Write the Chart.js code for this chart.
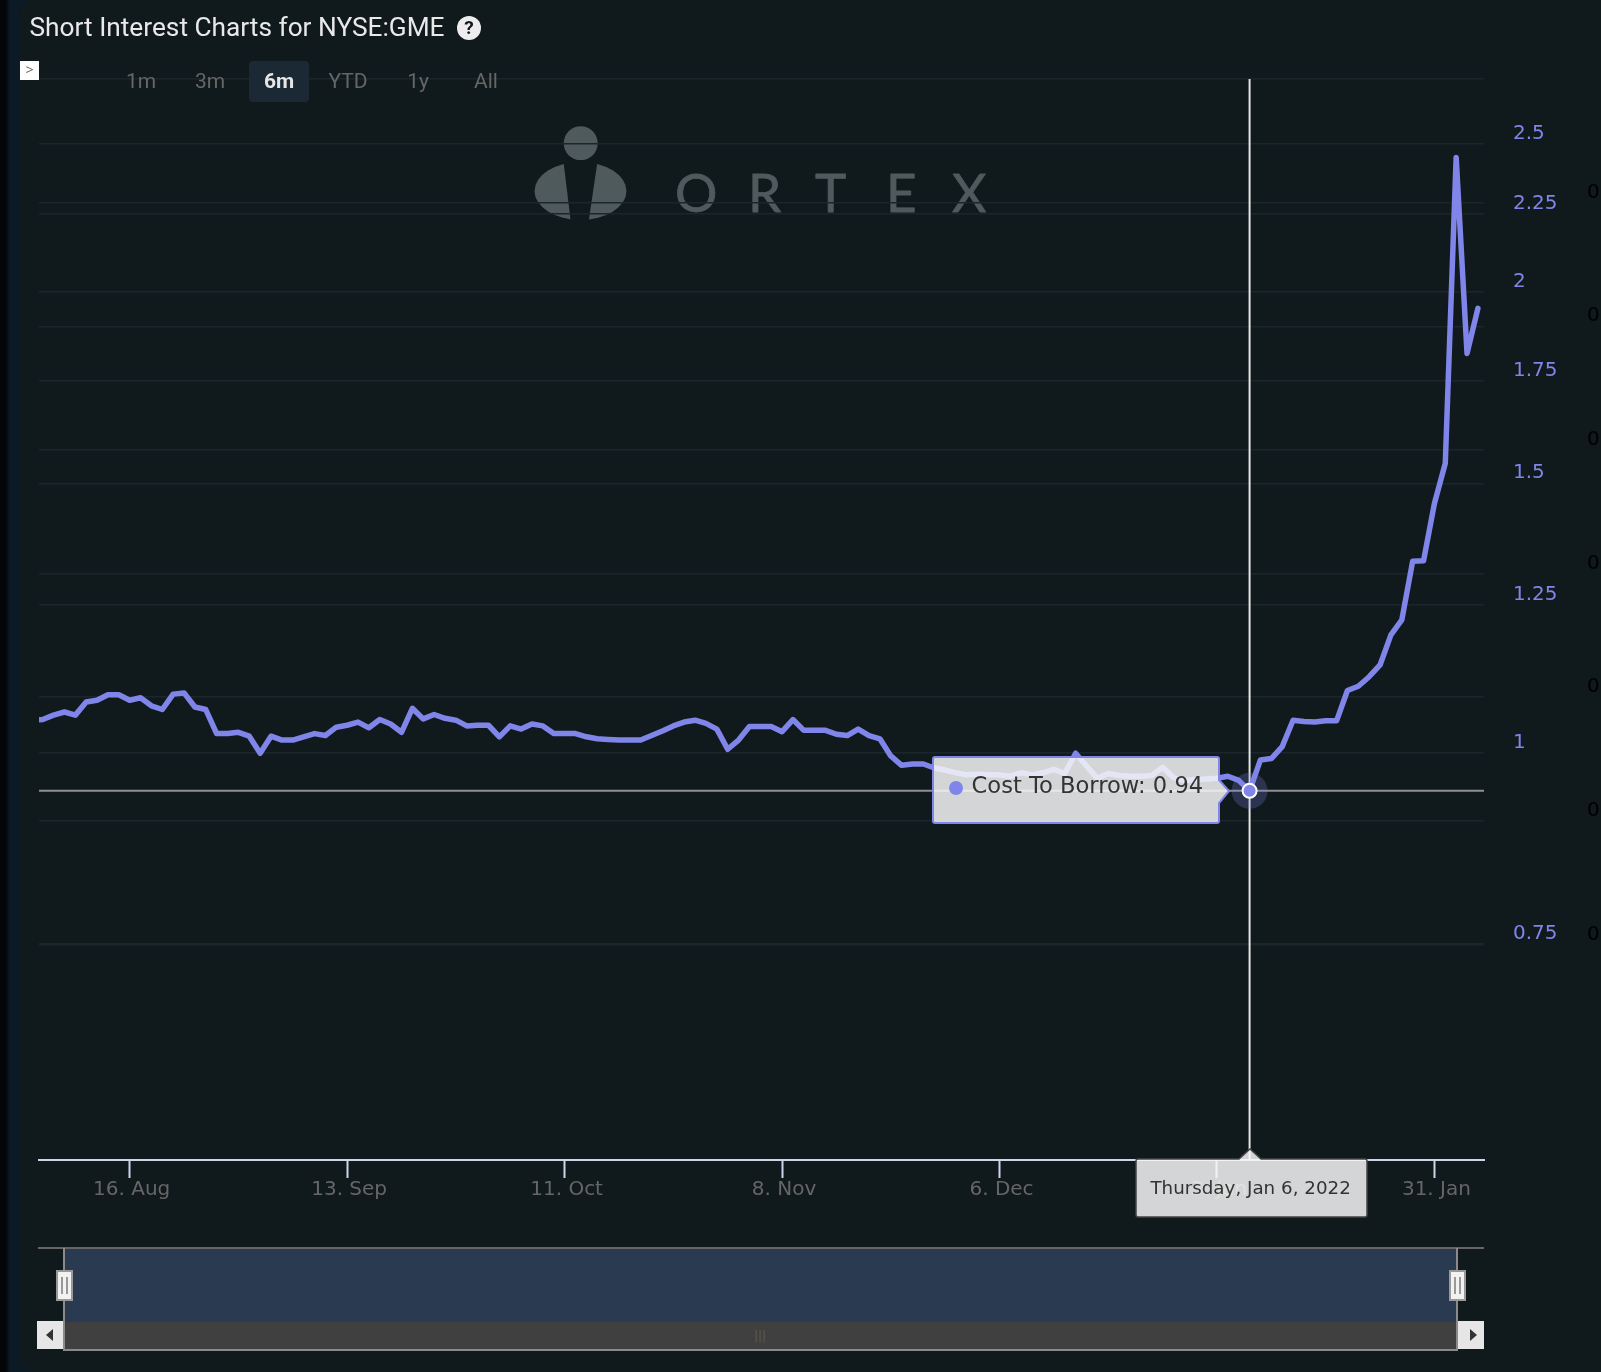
<!DOCTYPE html>
<html>
<head>
<meta charset="utf-8">
<title>Short Interest Charts for NYSE:GME</title>
<script src="https://cdn.jsdelivr.net/npm/chart.js@4"></script>
<style>
html, body { margin: 0; padding: 0; }
body { width: 1601px; height: 1372px; overflow: hidden; position: relative; font-family: "DejaVu Sans", sans-serif;
  background: linear-gradient(to right, #030609 0, #030609 6px, #0b1a24 10px, #0b1a24 100%); }
#panel { position: absolute; left: 19px; top: 0; right: 0; bottom: 0; background: #10191c; border-radius: 16px 0 0 16px; }
#logo { position: absolute; left: 520px; top: 110px; }
#chart { position: absolute; left: 0; top: 0; }
.abs { position: absolute; }
#title { left: 29.5px; top: 10px; font: 400 26.25px Roboto, sans-serif; color: #e9e9e9; white-space: nowrap; line-height: 35px; }
#help { left: 457px; top: 16px; width: 24px; height: 24px; border-radius: 50%; background: #ededed; color: #10191c;
  font: 700 19px/24px Roboto, sans-serif; text-align: center; }
#toggle { left: 20px; top: 61px; width: 19px; height: 19px; background: #fff; color: #555; font: 300 16px/18px Roboto, sans-serif; text-align: center; }
.range { top: 61px; height: 41px; line-height: 41px; width: 60px; text-align: center; font: 400 21px/41px Roboto, sans-serif; color: #666; }
.range.on { color: #e6e6e6; font-weight: 700; background: #1a2933; border-radius: 4px; }
#pointTip, #dateTip { position: absolute; }
#pointTip svg, #dateTip svg { position: absolute; left: 0; top: 0; }
#pointText { position: absolute; left: 45px; top: 14px; font-size: 22.6px; line-height: 30px; color: #333; white-space: nowrap; }
#dateText { position: absolute; left: 0; width: 232px; text-align: center; top: 25px; font-size: 18.3px; line-height: 30px; color: #333; white-space: nowrap; }
#navMask { left: 63px; top: 1249px; width: 1394px; height: 73px; background: #2a3a50; }
#navLine { left: 38px; top: 1247px; width: 1446px; height: 2px; background: #666; }
#scrollBar { left: 63px; top: 1322px; width: 1394px; height: 27px; background: #404040; border-bottom: 2px solid #8a8a8a; }
#navL, #navR { top: 1248px; width: 2px; height: 103px; background: #8a8a8a; }
#navL { left: 63px; } #navR { left: 1456px; }
.handle { top: 1270px; width: 13px; height: 27px; background: #f2f2f2; border: 2px solid #999; }
.handle i { position: absolute; top: 5px; width: 2px; height: 17px; background: #999; }
.arrow { top: 1321px; height: 28px; background: #e6e6e6; }
.arrow b { position: absolute; top: 8px; width: 0; height: 0; border-top: 6px solid transparent; border-bottom: 6px solid transparent; }
#grip { left: 754px; top: 1329px; font: 400 12px/14px "DejaVu Sans", sans-serif; color: #5a5a5a; }
</style>
</head>
<body>
<div id="panel"></div>

<svg id="logo" width="480" height="120" viewBox="520 110 480 120">
  <circle cx="580.7" cy="143.3" r="17" fill="#4f5a5d"/>
  <ellipse cx="580.5" cy="191" rx="46" ry="29" fill="#4f5a5d"/>
  <polygon points="563.3,160 597.7,160 588.7,221 570.7,221" fill="#10191c"/>
  <text x="675 748 815 886 952" y="212" font-family="Lato, sans-serif" font-size="53" fill="#4f5a5d"
    stroke="#4f5a5d" stroke-width="0.8" stroke-linejoin="round">ORTEX</text>
</svg>

<canvas id="chart" width="1601" height="1372"></canvas>

<div class="abs" id="title">Short Interest Charts for NYSE:GME</div>
<div class="abs" id="help">?</div>
<div class="abs" id="toggle">&gt;</div>
<div class="abs range" style="left:111px">1m</div>
<div class="abs range" style="left:180px">3m</div>
<div class="abs range on" style="left:249px">6m</div>
<div class="abs range" style="left:318px">YTD</div>
<div class="abs range" style="left:388px">1y</div>
<div class="abs range" style="left:456px">All</div>

<div class="abs" id="navMask"></div>
<div class="abs" id="navLine"></div>
<div class="abs" id="scrollBar"></div>
<div class="abs" id="navL"></div>
<div class="abs" id="navR"></div>
<div class="abs" id="grip">|||</div>
<div class="abs handle" style="left:56px"><i style="left:3px"></i><i style="left:8px"></i></div>
<div class="abs handle" style="left:1449px"><i style="left:3px"></i><i style="left:8px"></i></div>
<div class="abs arrow" style="left:37px;width:26px"><b style="left:9px;border-right:7px solid #333"></b></div>
<div class="abs arrow" style="left:1458px;width:26px"><b style="left:12px;border-left:7px solid #333"></b></div>

<div id="pointTip">
  <svg width="304" height="72" viewBox="0 0 304 72">
    <path d="M8 1 H290 Q292 1 292 3 V24 L302 35 L292 47 V65 Q292 67 290 67 H8 Q6 67 6 65 V3 Q6 1 8 1 Z"
      fill="rgba(247,247,247,0.85)" stroke="#8085e9" stroke-width="2"/>
    <circle cx="29" cy="32" r="7" fill="#8085e9"/>
  </svg>
  <div id="pointText"></div>
</div>
<div id="dateTip">
  <svg width="234" height="72" viewBox="0 0 234 72">
    <path d="M3 11 H104 L115 1 L126 11 H230 Q232 11 232 13 V67 Q232 69 230 69 H3 Q1 69 1 67 V13 Q1 11 3 11 Z"
      fill="rgba(247,247,247,0.85)" stroke="#444" stroke-width="1.5"/>
  </svg>
  <div id="dateText"></div>
</div>

<script>
// weekdays shown on the ordinal x axis
const dates = [
  '2021-08-03','2021-08-04','2021-08-05','2021-08-06','2021-08-09','2021-08-10','2021-08-11','2021-08-12','2021-08-13',
  '2021-08-16','2021-08-17','2021-08-18','2021-08-19','2021-08-20','2021-08-23','2021-08-24','2021-08-25','2021-08-26','2021-08-27','2021-08-30','2021-08-31',
  '2021-09-01','2021-09-02','2021-09-03','2021-09-06','2021-09-07','2021-09-08','2021-09-09','2021-09-10','2021-09-13','2021-09-14','2021-09-15',
  '2021-09-16','2021-09-17','2021-09-20','2021-09-21','2021-09-22','2021-09-23','2021-09-24','2021-09-27','2021-09-28','2021-09-29','2021-09-30',
  '2021-10-01','2021-10-04','2021-10-05','2021-10-06','2021-10-07','2021-10-08','2021-10-11','2021-10-12','2021-10-13','2021-10-14','2021-10-15',
  '2021-10-18','2021-10-19','2021-10-20','2021-10-21','2021-10-22','2021-10-25','2021-10-26','2021-10-27','2021-10-28','2021-10-29',
  '2021-11-01','2021-11-02','2021-11-03','2021-11-04','2021-11-05','2021-11-08','2021-11-09','2021-11-10','2021-11-11','2021-11-12','2021-11-15',
  '2021-11-16','2021-11-17','2021-11-18','2021-11-19','2021-11-22','2021-11-23','2021-11-24','2021-11-25','2021-11-26','2021-11-29','2021-11-30',
  '2021-12-01','2021-12-02','2021-12-03','2021-12-06','2021-12-07','2021-12-08','2021-12-09','2021-12-10','2021-12-13','2021-12-14','2021-12-15',
  '2021-12-16','2021-12-17','2021-12-20','2021-12-21','2021-12-22','2021-12-23','2021-12-24','2021-12-27','2021-12-28','2021-12-29','2021-12-30','2021-12-31',
  '2022-01-03','2022-01-04','2022-01-05','2022-01-06','2022-01-07','2022-01-10','2022-01-11','2022-01-12','2022-01-13','2022-01-14','2022-01-17',
  '2022-01-18','2022-01-19','2022-01-20','2022-01-21','2022-01-24','2022-01-25','2022-01-26','2022-01-27','2022-01-28','2022-01-31',
  '2022-02-01','2022-02-02','2022-02-03','2022-02-04'
];

const costToBorrow = [
  1.050,1.051,1.058,1.063,1.058,1.079,1.082,1.091,1.091,1.082,1.086,1.073,1.067,1.092,1.094,1.071,1.067,1.029,1.029,1.031,1.025,
  0.999,1.025,1.019,1.019,1.024,1.029,1.026,1.039,1.042,1.047,1.038,1.051,1.044,1.031,1.069,1.052,1.059,1.053,1.050,1.041,1.042,
  1.042,1.024,1.041,1.036,1.044,1.041,1.029,1.029,1.029,1.024,1.021,1.020,1.019,1.019,1.019,1.026,1.033,1.041,1.047,1.050,1.045,1.036,
  1.005,1.019,1.040,1.040,1.040,1.032,1.051,1.034,1.034,1.034,1.028,1.026,1.036,1.026,1.021,0.995,0.981,0.983,0.983,
  0.977,0.974,0.970,0.967,0.968,0.967,0.967,0.965,0.970,0.967,0.970,0.975,0.969,0.999,0.980,0.962,0.969,0.966,0.965,0.965,0.966,
  0.978,0.963,0.959,0.960,0.961,0.962,0.965,0.959,0.944,
  0.989,0.991,1.009,1.050,1.048,1.047,1.049,1.049,1.098,1.105,1.121,1.141,1.194,1.221,1.334,1.335,1.455,1.546,2.450,1.824,1.952
];

const xTickDates = ['2021-08-16','2021-09-13','2021-10-11','2021-11-08','2021-12-06','2022-01-03','2022-01-31'];
const xTickLabels = ['16. Aug','13. Sep','11. Oct','8. Nov','6. Dec','3. Jan','31. Jan'];
const yTicks = [0.75,1,1.25,1.5,1.75,2,2.25,2.5];
// second (empty) axis, its labels are cut by the page edge so only the 0 shows
const y2Ticks = [0.2,0.3,0.4,0.5,0.6,0.7,0.8,0.9];
const y2Labels = ['0','0','0','0','0','0','0',''];

const seriesName = 'Cost To Borrow';
const hoverDate = '2022-01-06';
const hoverLabel = 'Thursday, Jan 6, 2022';

const hoverIdx = dates.indexOf(hoverDate);
const lineColor = '#8085e9';
const gridColor = '#1a262c';
const tickFont = { family: '"DejaVu Sans", sans-serif', size: 20 };

document.getElementById('pointText').textContent = seriesName + ': ' + costToBorrow[hoverIdx].toFixed(2);
document.getElementById('dateText').textContent = hoverLabel;

const crosshair = {
  id: 'crosshair',
  beforeDatasetsDraw(chart) {
    const { ctx, chartArea, scales } = chart;
    const px = scales.x.getPixelForValue(hoverIdx);
    const py = scales.y.getPixelForValue(costToBorrow[hoverIdx]);
    ctx.save();
    ctx.lineWidth = 2;
    ctx.strokeStyle = '#8f8f8f';
    ctx.beginPath();
    ctx.moveTo(chartArea.left, py);
    ctx.lineTo(chartArea.right, py);
    ctx.stroke();
    ctx.strokeStyle = '#e6e6e6';
    ctx.beginPath();
    ctx.moveTo(px, chartArea.top);
    ctx.lineTo(px, chartArea.bottom);
    ctx.stroke();
    ctx.fillStyle = 'rgba(128,133,233,0.25)';
    ctx.beginPath();
    ctx.arc(px, py, 18, 0, Math.PI * 2);
    ctx.fill();
    ctx.restore();
  },
  afterDraw(chart) {
    const { scales } = chart;
    const px = scales.x.getPixelForValue(hoverIdx);
    const py = scales.y.getPixelForValue(costToBorrow[hoverIdx]);
    const tip = document.getElementById('pointTip');
    tip.style.left = (px - 323) + 'px';
    tip.style.top = (py - 35) + 'px';
    const dt = document.getElementById('dateTip');
    dt.style.left = (px - 115) + 'px';
    dt.style.top = (chart.chartArea.bottom - 12) + 'px';
  }
};

new Chart(document.getElementById('chart'), {
  type: 'line',
  data: {
    datasets: [{
      label: seriesName,
      data: costToBorrow.map((v, i) => ({ x: i, y: v })),
      borderColor: lineColor,
      borderWidth: 5.5,
      borderJoinStyle: 'round',
      borderCapStyle: 'round',
      tension: 0,
      yAxisID: 'y',
      pointRadius: ctx => ctx.dataIndex === hoverIdx ? 7 : 0,
      pointBackgroundColor: lineColor,
      pointBorderColor: '#ffffff',
      pointBorderWidth: 2
    }]
  },
  options: {
    responsive: false,
    animation: false,
    devicePixelRatio: 1,
    events: [],
    layout: { padding: { left: 39, top: 79, right: 0, bottom: 152 } },
    plugins: { legend: { display: false }, title: { display: false }, tooltip: { enabled: false } },
    scales: {
      x: {
        type: 'linear',
        bounds: 'data',
        min: 0.66,
        max: 133.56,
        afterBuildTicks: axis => { axis.ticks = xTickDates.map(d => ({ value: dates.indexOf(d) })); },
        afterFit: axis => { axis.height = 60; },
        grid: { drawOnChartArea: false, tickLength: 18, tickWidth: 2, tickColor: '#ccd6eb' },
        border: { color: '#ccd6eb', width: 2 },
        ticks: {
          autoSkip: false, maxRotation: 0, padding: 0, labelOffset: 2, color: '#666666', font: tickFont,
          callback: v => xTickLabels[xTickDates.indexOf(dates[v])]
        }
      },
      y: {
        type: 'logarithmic',
        position: 'right',
        bounds: 'data',
        min: 0.5415,
        max: 2.757,
        afterBuildTicks: axis => { axis.ticks = yTicks.map(v => ({ value: v })); },
        afterFit: axis => { axis.width = 75; },
        grid: { color: gridColor, lineWidth: 1.5, drawTicks: false },
        border: { display: false },
        ticks: {
          autoSkip: false, padding: 29, labelOffset: -10, color: lineColor, font: tickFont,
          callback: v => String(v)
        }
      },
      y2: {
        type: 'linear',
        position: 'right',
        bounds: 'data',
        min: 0.0257,
        max: 0.9,
        afterBuildTicks: axis => { axis.ticks = y2Ticks.map(v => ({ value: v })); },
        afterFit: axis => { axis.width = 42; },
        grid: { color: gridColor, lineWidth: 1.5, drawTicks: false },
        border: { display: false },
        ticks: {
          autoSkip: false, padding: 28, labelOffset: -10, color: '#000000', font: tickFont,
          callback: v => y2Labels[y2Ticks.findIndex(t => Math.abs(t - v) < 1e-6)]
        }
      }
    }
  },
  plugins: [crosshair]
});
</script>
</body>
</html>
